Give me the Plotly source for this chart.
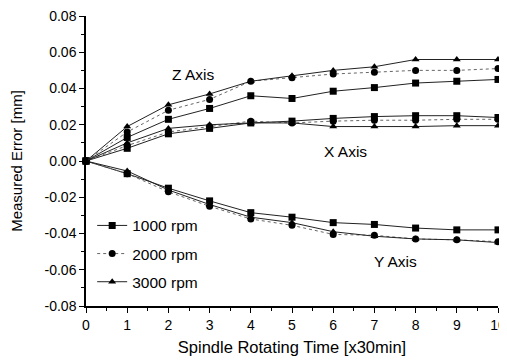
import plotly.graph_objects as go

time = [0, 1, 2, 3, 4, 5, 6, 7, 8, 9, 10]

z_1000 = [0, 0.013, 0.023, 0.029, 0.036, 0.0345, 0.0385, 0.0405, 0.043, 0.044, 0.045]
z_2000 = [0, 0.016, 0.028, 0.034, 0.044, 0.046, 0.048, 0.049, 0.050, 0.050, 0.051]
z_3000 = [0, 0.019, 0.031, 0.037, 0.044, 0.047, 0.050, 0.052, 0.056, 0.056, 0.056]

x_1000 = [0, 0.007, 0.015, 0.018, 0.021, 0.022, 0.0235, 0.0245, 0.025, 0.025, 0.024]
x_2000 = [0, 0.0085, 0.016, 0.019, 0.022, 0.021, 0.022, 0.0225, 0.0225, 0.023, 0.023]
x_3000 = [0, 0.010, 0.018, 0.020, 0.021, 0.021, 0.019, 0.019, 0.019, 0.0195, 0.0195]

y_1000 = [0, -0.007, -0.015, -0.022, -0.0285, -0.031, -0.034, -0.035, -0.037, -0.038, -0.038]
y_2000 = [0, -0.007, -0.017, -0.025, -0.032, -0.0355, -0.0405, -0.041, -0.043, -0.0435, -0.0445]
y_3000 = [0, -0.0055, -0.016, -0.024, -0.031, -0.034, -0.039, -0.0415, -0.043, -0.0435, -0.045]

speed_labels = ["1000 rpm", "2000 rpm", "3000 rpm"]
axis_labels = ["Z Axis", "X Axis", "Y Axis"]
y_ticks = [-0.08, -0.06, -0.04, -0.02, 0.00, 0.02, 0.04, 0.06, 0.08]
x_ticks = list(range(0, 11))

series = {
    "1000 rpm": [z_1000, x_1000, y_1000],
    "2000 rpm": [z_2000, x_2000, y_2000],
    "3000 rpm": [z_3000, x_3000, y_3000],
}
styles = {
    "1000 rpm": dict(symbol="square", color="black", dash="solid", lcolor="#222222"),
    "2000 rpm": dict(symbol="circle", color="black", dash="dot", lcolor="#666666"),
    "3000 rpm": dict(symbol="triangle-up", color="black", dash="solid", lcolor="#222222"),
}

FONT = "Liberation Sans, Arial, Helvetica"

fig = go.Figure()
for name in speed_labels:
    st = styles[name]
    for i, vals in enumerate(series[name]):
        fig.add_trace(go.Scatter(
            x=time, y=vals, mode="lines+markers", name=name,
            legendgroup=name, showlegend=(i == 0),
            line=dict(color=st["lcolor"], width=1, dash=st["dash"]),
            marker=dict(symbol=st["symbol"], color=st["color"], size=7),
            cliponaxis=False,
        ))

ann_pos = [(2.6, 0.048), (6.3, 0.005), (7.5, -0.0555)]
for label, (ax, ay) in zip(axis_labels, ann_pos):
    fig.add_annotation(x=ax, y=ay, text=label, showarrow=False,
                       font=dict(family=FONT, size=15.5, color="black"))

# The page body has an 8px default margin; the figure is sized to fit the window.
fig.update_layout(
    width=499, height=348,
    margin=dict(l=78, r=9, t=8, b=50, autoexpand=False),
    plot_bgcolor="white", paper_bgcolor="white",
    font=dict(family=FONT, size=14, color="black"),
    legend=dict(x=0.015, y=0.335, xanchor="left", yanchor="top",
                bgcolor="rgba(0,0,0,0)", font=dict(size=15.5),
                itemwidth=30, tracegroupgap=5),
    showlegend=True,
)
fig.update_xaxes(
    range=[0, 10], tickvals=x_ticks, ticktext=[str(t) for t in x_ticks],
    showgrid=False, zeroline=False, showline=True, linecolor="black", linewidth=1.5,
    ticks="outside", ticklen=5, tickcolor="black", automargin=False,
    tickfont=dict(size=14), ticklabeloverflow="allow",
    minor=dict(dtick=0.5, ticks="outside", ticklen=3, tickcolor="black"),
    title=dict(text="Spindle Rotating Time [x30min]", font=dict(size=16.5), standoff=12),
)
fig.update_yaxes(
    range=[-0.08, 0.08], tickvals=y_ticks, ticktext=[f"{t:.2f}" for t in y_ticks],
    showgrid=False, zeroline=False, showline=True, linecolor="black", linewidth=1.5,
    ticks="outside", ticklen=5, tickcolor="black", automargin=False,
    tickfont=dict(size=14), ticklabeloverflow="allow",
    minor=dict(dtick=0.01, ticks="outside", ticklen=3, tickcolor="black"),
    title=dict(text="Measured Error [mm]", font=dict(size=15), standoff=22),
)

fig.write_html("out.html")
